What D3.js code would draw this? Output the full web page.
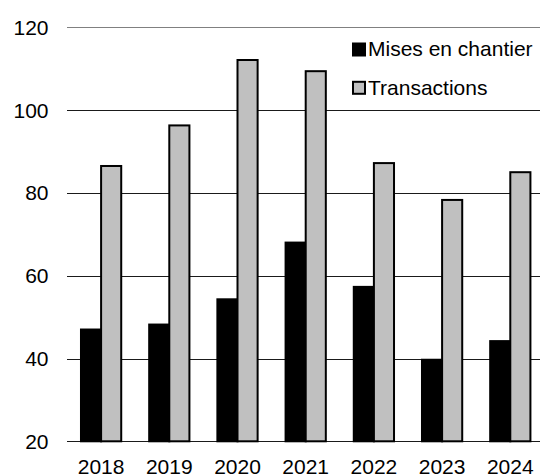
<!DOCTYPE html>
<html>
<head>
<meta charset="utf-8">
<script src="https://cdn.jsdelivr.net/npm/d3@7"></script>
<style>
  body { margin: 0; background: #fff; }
  text { font-family: "Liberation Sans", Arial, sans-serif; fill: #000; }
</style>
</head>
<body>
<div id="chart"></div>
<script>
// Data
const years = ["2018", "2019", "2020", "2021", "2022", "2023", "2024"];
const mises = [47.0, 48.2, 54.3, 68.0, 57.3, 39.7, 44.2];
const transactions = [86.5, 96.3, 112.1, 109.4, 87.2, 78.3, 85.0];
const seriesNames = ["Mises en chantier", "Transactions"];
const yTicks = [20, 40, 60, 80, 100, 120];

const width = 540, height = 476;
const plotLeft = 67, plotRight = 544.4, plotTop = 27.3, plotBottom = 441.3;

const svg = d3.select("#chart").append("svg")
    .attr("width", width)
    .attr("height", height);

const x = d3.scaleBand()
    .domain(years)
    .range([plotLeft, plotRight])
    .paddingInner(0.41)
    .paddingOuter(0.205);

const x1 = d3.scaleBand()
    .domain(seriesNames)
    .range([0, x.bandwidth()]);

const y = d3.scaleLinear()
    .domain([20, 120])
    .range([plotBottom, plotTop]);

// gridlines
svg.append("g").selectAll("line")
    .data(yTicks)
    .join("line")
    .attr("x1", plotLeft).attr("x2", width)
    .attr("y1", d => Math.round(y(d)) + 0.5)
    .attr("y2", d => Math.round(y(d)) + 0.5)
    .attr("stroke", d => d === 120 ? "#808080" : "#1a1a1a")
    .attr("stroke-width", 1);

// y axis labels
svg.append("g").selectAll("text")
    .data(yTicks)
    .join("text")
    .attr("x", 48.5)
    .attr("y", d => y(d))
    .attr("dy", "0.36em")
    .attr("text-anchor", "end")
    .style("font-size", "21px")
    .text(d => d);

// bars
const rows = years.map((yr, i) => ({ year: yr, values: [mises[i], transactions[i]] }));
const colors = ["#000000", "#c0c0c0"];

const groups = svg.append("g").selectAll("g")
    .data(rows)
    .join("g")
    .attr("transform", d => `translate(${x(d.year)},0)`);

groups.selectAll("rect")
    .data(d => d.values.map((v, k) => ({ name: seriesNames[k], value: v, k })))
    .join("rect")
    .attr("x", d => x1(d.name))
    .attr("y", d => y(d.value))
    .attr("width", x1.bandwidth())
    .attr("height", d => y(20) - y(d.value))
    .attr("fill", d => colors[d.k])
    .attr("stroke", "#000")
    .attr("stroke-width", 2);

// x axis labels
svg.append("g").selectAll("text")
    .data(years)
    .join("text")
    .attr("x", d => x(d) + x.bandwidth() / 2)
    .attr("y", 473.5)
    .attr("text-anchor", "middle")
    .style("font-size", "21px")
    .text(d => d);

// legend
const legend = svg.append("g");
seriesNames.forEach((name, k) => {
    const ly = 43.5 + k * 38.3;
    legend.append("rect")
        .attr("x", 353).attr("y", ly)
        .attr("width", 12).attr("height", 12)
        .attr("fill", colors[k])
        .attr("stroke", "#000")
        .attr("stroke-width", 2);
    legend.append("text")
        .attr("x", 368).attr("y", ly + 12.8)
        .style("font-size", "21px")
        .text(name);
});
</script>
</body>
</html>
